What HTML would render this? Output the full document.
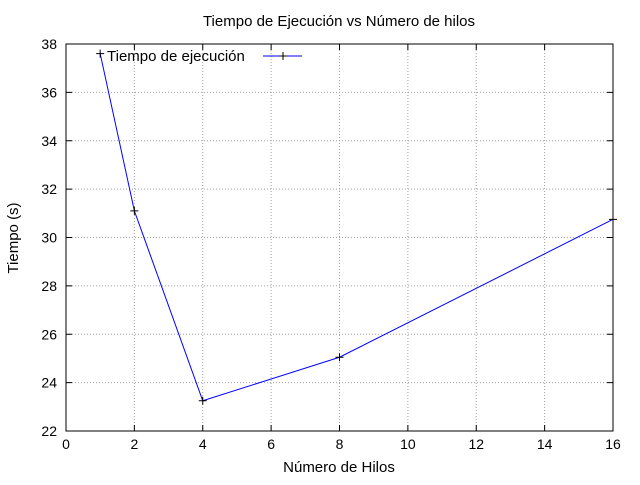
<!DOCTYPE html>
<html><head><meta charset="utf-8"><style>
html,body{margin:0;padding:0;background:#fff;}
svg text{font-family:"Liberation Sans",sans-serif;fill:#000;}
</style></head><body>
<svg id="chart" width="640" height="480" xmlns="http://www.w3.org/2000/svg"></svg>
<script>
const threads = [1, 2, 4, 8, 16];
const times = [37.6, 31.1, 23.25, 25.05, 30.75];
const xTicks = [0, 2, 4, 6, 8, 10, 12, 14, 16];
const yTicks = [22, 24, 26, 28, 30, 32, 34, 36, 38];

const L = 66, R = 613, T = 44, B = 431;
const sx = v => L + (v - 0) / 16 * (R - L);
const sy = v => B - (v - 22) / 16 * (B - T);
const svg = document.getElementById('chart');
const NS = 'http://www.w3.org/2000/svg';
function mk(tag, attrs, parent) {
  const e = document.createElementNS(NS, tag);
  for (const k in attrs) e.setAttribute(k, attrs[k]);
  (parent || svg).appendChild(e);
  return e;
}
xTicks.forEach(v => {
  if (v > 0 && v < 16) {
    const g = mk('line', {x1: sx(v), x2: sx(v), y1: T, y2: B, stroke: '#a0a0a0', 'stroke-dasharray': '1,2'});
    
    
  }
  mk('line', {x1: sx(v), x2: sx(v), y1: B, y2: B - 6, stroke: '#000'});
  mk('line', {x1: sx(v), x2: sx(v), y1: T, y2: T + 6, stroke: '#000'});
  const t = mk('text', {x: sx(v), y: B + 18, 'text-anchor': 'middle', 'font-size': 14});
  t.textContent = v;
  
  
});
yTicks.forEach(v => {
  if (v > 22 && v < 38) {
    const g = mk('line', {x1: L, x2: R, y1: sy(v), y2: sy(v), stroke: '#a0a0a0', 'stroke-dasharray': '1,2'});
    
    
  }
  mk('line', {x1: L, x2: L + 6, y1: sy(v), y2: sy(v), stroke: '#000'});
  mk('line', {x1: R, x2: R - 6, y1: sy(v), y2: sy(v), stroke: '#000'});
  const t = mk('text', {x: L - 9, y: sy(v) + 5, 'text-anchor': 'end', 'font-size': 14});
  t.textContent = v;
  
  
});
const frame = mk('rect', {x: L, y: T, width: R - L, height: B - T, fill: 'none', stroke: '#000'});


const pts = threads.map((x, i) => sx(x) + ',' + sy(times[i])).join(' ');
const line = mk('polyline', {points: pts, fill: 'none', stroke: '#0000ff', 'stroke-width': 1});


threads.forEach((x, i) => {
  const cx = sx(x), cy = sy(times[i]);
  const p = mk('path', {d: `M${cx-4},${cy}H${cx+4}M${cx},${cy-4}V${cy+4}`, stroke: '#000', 'stroke-width': 1});
  
  
});
const lt = mk('text', {x: 107, y: 61, 'font-size': 15});
lt.textContent = 'Tiempo de ejecución';


const ll = mk('line', {x1: 263, x2: 302, y1: 56, y2: 56, stroke: '#0000ff'});


mk('path', {d: 'M279,56H287M283,52V60', stroke: '#000'});
const title = mk('text', {x: 339, y: 26, 'text-anchor': 'middle', 'font-size': 15});
title.textContent = 'Tiempo de Ejecución vs Número de hilos';


const xt = mk('text', {x: 339, y: 472, 'text-anchor': 'middle', 'font-size': 15});
xt.textContent = 'Número de Hilos';


const yt = mk('text', {x: 0, y: 0, 'text-anchor': 'middle', 'font-size': 15, transform: 'translate(18,238) rotate(-90)'});
yt.textContent = 'Tiempo (s)';


</script>
</body></html>
